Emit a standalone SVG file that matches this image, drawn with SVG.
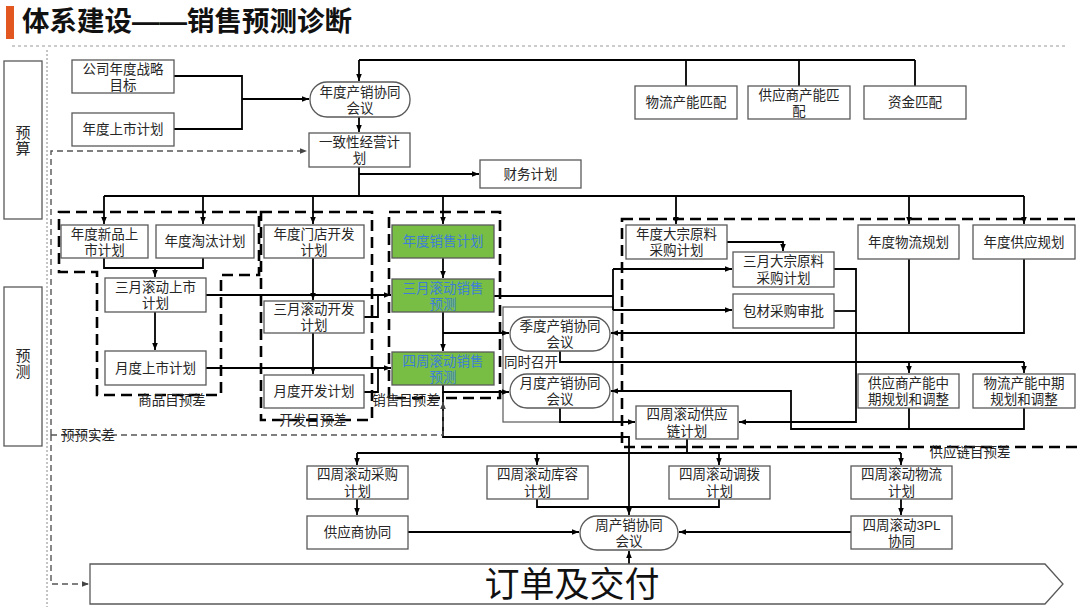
<svg xmlns="http://www.w3.org/2000/svg" width="1080" height="607" viewBox="0 0 1080 607">
<defs>
<style>
.box{fill:#fff;stroke:#595959;stroke-width:1.3}
.gr{fill:#78be45;stroke:#595959;stroke-width:1.3}
.t{font-family:"Liberation Sans","Noto Sans CJK SC",sans-serif;font-size:13.5px;fill:#262626;text-anchor:middle;dominant-baseline:central}
.tb{fill:#3d7fd6}
.c{fill:none;stroke:#000;stroke-width:1.8}
.ca{marker-end:url(#ah)}
.thin{fill:none;stroke:#595959;stroke-width:1.2}
.grp{fill:none;stroke:#000;stroke-width:2.6;stroke-dasharray:11 6}
.pd{fill:none;stroke:#555;stroke-width:1.4;stroke-dasharray:6 4}
.pda{marker-end:url(#ahg)}
</style>
<marker id="ah" viewBox="0 0 10 10" refX="10" refY="5" markerWidth="7" markerHeight="7" markerUnits="userSpaceOnUse" orient="auto"><path d="M0,1 L10,5 L0,9 z" fill="#000"/></marker>
<marker id="ahg" viewBox="0 0 10 10" refX="10" refY="5" markerWidth="7" markerHeight="7" markerUnits="userSpaceOnUse" orient="auto"><path d="M0,1 L10,5 L0,9 z" fill="#444"/></marker>
</defs>
<rect width="1080" height="607" fill="#fff"/>

<!-- title -->
<rect x="6" y="6" width="8" height="33" fill="#e2561f"/>
<text x="22" y="31" style="font-family:'Liberation Sans','Noto Sans CJK SC',sans-serif;font-size:27.5px;font-weight:bold;fill:#111">体系建设——销售预测诊断</text>
<line x1="12" y1="46" x2="1067" y2="46" stroke="#999" stroke-width="1.2" stroke-dasharray="3 3"/>
<line x1="47" y1="50" x2="47" y2="607" stroke="#888" stroke-width="1" stroke-dasharray="2 2"/>

<!-- side labels -->
<g id="side-budget"><rect class="box" x="4" y="61" width="38" height="158"/><text class="t" x="23" y="132" style="font-size:15px">预</text><text class="t" x="23" y="148" style="font-size:15px">算</text></g>
<g id="side-forecast"><rect class="box" x="4" y="287" width="38" height="159"/><text class="t" x="23" y="355" style="font-size:15px">预</text><text class="t" x="23" y="371" style="font-size:15px">测</text></g>

<!-- dashed groups -->
<g id="groups">
<path class="grp" d="M59,212 H259 V275 H221 V395 H97 V272 H59 Z"/>
<rect class="grp" x="261" y="212" width="111" height="208"/>
<rect class="grp" x="389" y="212" width="111" height="186"/>
<rect class="grp" x="622" y="219" width="462" height="228"/>
<rect class="thin" x="503" y="307" width="110" height="115"/>
</g>

<!-- connectors -->
<g id="connectors">
<path class="c" d="M174,76 H242 V129 H174"/>
<path class="c ca" d="M242,99 H309"/>
<path class="c" d="M359,60 H915 M686,60 V86 M799,60 V86 M915,60 V86"/>
<path class="c ca" d="M359,60 V81"/>
<path class="c ca" d="M359,117 V132"/>
<path class="c" d="M359,167 V196"/>
<path class="c ca" d="M359,174 H479"/>
<path class="c" d="M104,196 H1024"/>
<path class="c ca" d="M104,196 V224"/>
<path class="c ca" d="M203,196 V224"/>
<path class="c ca" d="M313,196 V224"/>
<path class="c ca" d="M443,196 V224"/>
<path class="c ca" d="M676,196 V224"/>
<path class="c ca" d="M909,196 V224"/>
<path class="c ca" d="M1024,196 V224"/>
<path class="c" d="M104,258 V268 H203 V258"/>
<path class="c ca" d="M155,268 V277"/>
<path class="c ca" d="M155,312 V350"/>
<path class="c ca" d="M313,258 V300"/>
<path class="c ca" d="M313,333 V374"/>
<path class="c ca" d="M443,258 V278"/>
<path class="c ca" d="M443,312 V351"/>
<path class="c ca" d="M206,295 H391"/>
<path class="c" d="M364,317 H378 V295"/>
<path class="c ca" d="M206,368 H391"/>
<path class="c" d="M364,392 H378 V368"/>
<path class="c ca" d="M443,333 H509"/>
<path class="c ca" d="M443,385 V392 H509"/>
<path class="c ca" d="M443,392 V437 H629 V515"/>
<path class="c" d="M494,296 H613 M613,269 V310"/>
<path class="c ca" d="M613,269 H732"/>
<path class="c ca" d="M613,310 H732"/>
<path class="c ca" d="M727,242 H783 V251"/>
<path class="c" d="M560,351 V362 H1024"/>
<path class="c ca" d="M909,362 V373"/>
<path class="c ca" d="M1024,362 V373"/>
<path class="c" d="M909,259 V333"/>
<path class="c ca" d="M1024,259 V333 H611"/>
<path class="c" d="M834,311 H856"/>
<path class="c ca" d="M834,269 H856 V422 H739"/>
<path class="c" d="M909,408 V429"/>
<path class="c ca" d="M1024,408 V429 H791 V391 H611"/>
<path class="c ca" d="M560,408 V422 H635"/>
<path class="c" d="M687,439 V453 M357,453 H901"/>
<path class="c ca" d="M357,453 V465"/>
<path class="c ca" d="M537,453 V465"/>
<path class="c ca" d="M719,453 V465"/>
<path class="c ca" d="M901,453 V465"/>
<path class="c ca" d="M357,499 V515"/>
<path class="c ca" d="M408,532 H579"/>
<path class="c" d="M537,499 V507 H719 V499"/>
<path class="c ca" d="M901,499 V515"/>
<path class="c ca" d="M851,532 H679"/>
<path class="c ca" d="M629,564 V551"/>
<path class="pd pda" d="M51,435 V151 H307"/>
<path class="pd pda" d="M51,435 V584 H89"/>
<path class="pd pda" d="M51,435 H443 V402"/>
</g>

<!-- group labels -->
<text class="t" x="172" y="400">商品目预差</text>
<text class="t" x="313" y="420">开发目预差</text>
<text class="t" x="406" y="400">销售目预差</text>
<text class="t" x="88" y="435">预预实差</text>
<text class="t" x="970" y="452">供应链目预差</text>
<text class="t" x="504" y="362" style="text-anchor:start">同时召开</text>

<!-- nodes -->
<g id="n1"><rect class="box" x="72" y="60" width="102" height="33"/><text class="t" x="123" y="69">公司年度战略</text><text class="t" x="123" y="85">目标</text></g>
<g id="n2"><rect class="box" x="72" y="113" width="102" height="33"/><text class="t" x="123" y="129.5">年度上市计划</text></g>
<g id="n3"><rect class="box" x="310" y="82" width="100" height="35" rx="17"/><text class="t" x="360" y="92">年度产销协同</text><text class="t" x="360" y="108">会议</text></g>
<g id="n4"><rect class="box" x="309" y="133" width="101" height="34"/><text class="t" x="359.5" y="142">一致性经营计</text><text class="t" x="359.5" y="158">划</text></g>
<g id="n5"><rect class="box" x="480" y="160" width="101" height="28"/><text class="t" x="530.5" y="174">财务计划</text></g>
<g id="n6"><rect class="box" x="635" y="86" width="102" height="33"/><text class="t" x="686" y="102.5">物流产能匹配</text></g>
<g id="n7"><rect class="box" x="748" y="86" width="102" height="33"/><text class="t" x="799" y="95">供应商产能匹</text><text class="t" x="799" y="111">配</text></g>
<g id="n8"><rect class="box" x="864" y="86" width="102" height="33"/><text class="t" x="915" y="102.5">资金匹配</text></g>
<g id="n9"><rect class="box" x="61" y="225" width="87" height="33"/><text class="t" x="104.5" y="234">年度新品上</text><text class="t" x="104.5" y="250">市计划</text></g>
<g id="n10"><rect class="box" x="156" y="225" width="98" height="33"/><text class="t" x="205" y="241.5">年度淘汰计划</text></g>
<g id="n11"><rect class="box" x="264" y="225" width="100" height="33"/><text class="t" x="314" y="234">年度门店开发</text><text class="t" x="314" y="250">计划</text></g>
<g id="n12"><rect class="gr" x="392" y="225" width="102" height="33"/><text class="t tb" x="443" y="241.5">年度销售计划</text></g>
<g id="n13"><rect class="box" x="105" y="278" width="101" height="34"/><text class="t" x="155.5" y="287">三月滚动上市</text><text class="t" x="155.5" y="303">计划</text></g>
<g id="n14"><rect class="box" x="264" y="301" width="100" height="32"/><text class="t" x="314" y="309">三月滚动开发</text><text class="t" x="314" y="325">计划</text></g>
<g id="n15"><rect class="gr" x="392" y="279" width="102" height="33"/><text class="t tb" x="443" y="288">三月滚动销售</text><text class="t tb" x="443" y="304">预测</text></g>
<g id="n16"><rect class="box" x="105" y="351" width="101" height="34"/><text class="t" x="155.5" y="368">月度上市计划</text></g>
<g id="n17"><rect class="box" x="264" y="375" width="100" height="33"/><text class="t" x="314" y="391.5">月度开发计划</text></g>
<g id="n18"><rect class="gr" x="392" y="352" width="102" height="33"/><text class="t tb" x="443" y="361">四周滚动销售</text><text class="t tb" x="443" y="377">预测</text></g>
<g id="n19"><rect class="box" x="626" y="225" width="101" height="34"/><text class="t" x="676.5" y="234">年度大宗原料</text><text class="t" x="676.5" y="250">采购计划</text></g>
<g id="n20"><rect class="box" x="733" y="252" width="101" height="35"/><text class="t" x="783.5" y="261">三月大宗原料</text><text class="t" x="783.5" y="278">采购计划</text></g>
<g id="n21"><rect class="box" x="733" y="294" width="101" height="34"/><text class="t" x="783.5" y="311">包材采购审批</text></g>
<g id="n22"><rect class="box" x="858" y="225" width="101" height="34"/><text class="t" x="908.5" y="242">年度物流规划</text></g>
<g id="n23"><rect class="box" x="973" y="225" width="102" height="34"/><text class="t" x="1024" y="242">年度供应规划</text></g>
<g id="n24"><rect class="box" x="510" y="317" width="100" height="34" rx="17"/><text class="t" x="560" y="326">季度产销协同</text><text class="t" x="560" y="342">会议</text></g>
<g id="n25"><rect class="box" x="510" y="374" width="100" height="34" rx="17"/><text class="t" x="560" y="383">月度产销协同</text><text class="t" x="560" y="399">会议</text></g>
<g id="n26"><rect class="box" x="858" y="374" width="101" height="34"/><text class="t" x="908.5" y="383">供应商产能中</text><text class="t" x="908.5" y="399">期规划和调整</text></g>
<g id="n27"><rect class="box" x="973" y="374" width="102" height="34"/><text class="t" x="1024" y="383">物流产能中期</text><text class="t" x="1024" y="399">规划和调整</text></g>
<g id="n28"><rect class="box" x="636" y="406" width="102" height="33"/><text class="t" x="687" y="414">四周滚动供应</text><text class="t" x="687" y="431">链计划</text></g>
<g id="n29"><rect class="box" x="307" y="466" width="101" height="33"/><text class="t" x="357.5" y="474">四周滚动采购</text><text class="t" x="357.5" y="491">计划</text></g>
<g id="n30"><rect class="box" x="487" y="466" width="101" height="33"/><text class="t" x="537.5" y="474">四周滚动库容</text><text class="t" x="537.5" y="491">计划</text></g>
<g id="n31"><rect class="box" x="669" y="466" width="101" height="33"/><text class="t" x="719.5" y="474">四周滚动调拨</text><text class="t" x="719.5" y="491">计划</text></g>
<g id="n32"><rect class="box" x="851" y="466" width="101" height="33"/><text class="t" x="901.5" y="474">四周滚动物流</text><text class="t" x="901.5" y="491">计划</text></g>
<g id="n33"><rect class="box" x="307" y="516" width="101" height="33"/><text class="t" x="357.5" y="532.5">供应商协同</text></g>
<g id="n34"><rect class="box" x="580" y="516" width="98" height="34" rx="17"/><text class="t" x="629" y="525">周产销协同</text><text class="t" x="629" y="541">会议</text></g>
<g id="n35"><rect class="box" x="851" y="516" width="101" height="33"/><text class="t" x="901.5" y="525">四周滚动3PL</text><text class="t" x="901.5" y="541">协同</text></g>
<g id="n36"><polygon class="box" points="90,564 1045,564 1063,584 1045,604 90,604"/><text class="t" x="572" y="584" style="font-size:35px;fill:#111">订单及交付</text></g>
</svg>
